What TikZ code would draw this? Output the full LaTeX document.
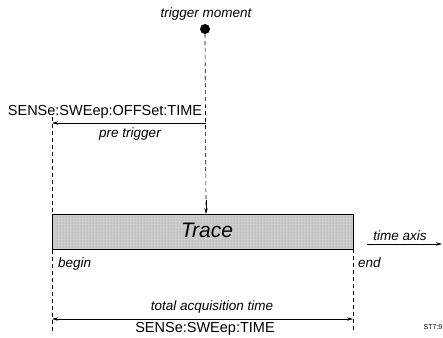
\documentclass[tikz,border=0pt]{standalone}
\usepackage{fontspec}
\setmainfont{Liberation Sans}
\usetikzlibrary{arrows.meta,patterns}
\tikzset{
  guide/.style={draw=black, line width=0.65pt, dash pattern=on 4pt off 3pt},
  dim/.style={draw=black, line width=0.7pt},
  tip/.style={-{Stealth[length=6pt,width=3.5pt]}},
  lbl/.style={font=\fontsize{13.5}{15}\selectfont\itshape, inner sep=0pt},
  cmd/.style={font=\fontsize{14.5}{16}\selectfont, inner sep=0pt},
}
\begin{document}
\begin{tikzpicture}[x=1pt,y=-1pt]
\useasboundingbox (0,0) rectangle (443,337);
% trace box
\node[draw=black, line width=0.8pt, fill=gray!40, minimum width=301pt, minimum height=35pt, inner sep=0pt, anchor=north west] (trace) at (52,214) {};
\fill[pattern=dots, pattern color=gray!70] (trace.north west) rectangle (trace.south east);
\draw[black, line width=0.8pt] (trace.north west) rectangle (trace.south east);
\draw[black, line width=1.2pt] (trace.south west) -- (trace.south east);
\node[font=\fontsize{21}{24}\selectfont\itshape, inner sep=0pt] (tracelbl) at (207,230) {Trace};
% trigger
\node[circle, fill=black, minimum size=10pt, inner sep=0pt] (dot) at (205,29) {};
\node[lbl] (trig) at (206,14) {trigger moment};
\coordinate (tartop) at (206,214);
\draw[guide] (dot.south) -- (206,205);
\draw[dim, tip] (206,200) -- (tartop);
% guides
\coordinate (bTop) at (52,117);
\coordinate (bBot) at (52,331);
\coordinate (eTop) at (353,249);
\coordinate (eBot) at (353,331);
\draw[guide] (bTop) -- (trace.north west);
\draw[guide] (trace.south west) -- (bBot);
\draw[guide] (eTop) -- (eBot);
% pre trigger
\coordinate (pR) at (206,123);
\coordinate (pL) at (52,123);
\draw[dim, tip] (pR) -- (pL);
\node[cmd] (offs) at (105,112) {SENSe:SWEep:OFFSet:TIME};
\node[lbl] (pre) at (130,134) {pre trigger};
% begin / end
\node[lbl, anchor=west] (begin) at (58,264) {begin};
\node[lbl, anchor=west] (end) at (358,263) {end};
% time axis
\coordinate (tA) at (367,244);
\coordinate (tB) at (442,244);
\draw[dim, tip] (tA) -- (tB);
\node[lbl] (taxis) at (400,236) {time axis};
% total acquisition
\coordinate (aL) at (52,319);
\coordinate (aR) at (353,319);
\draw[dim, {Stealth[length=6pt,width=3.5pt]}-{Stealth[length=6pt,width=3.5pt]}] (aL) -- (aR);
\node[lbl] (total) at (212,307) {total acquisition time};
\node[cmd] (sweep) at (205,329) {SENSe:SWEep:TIME};
\node[font=\fontsize{7}{8}\selectfont, inner sep=0pt] (code) at (433,327) {ST7:9};
\end{tikzpicture}
\end{document}
